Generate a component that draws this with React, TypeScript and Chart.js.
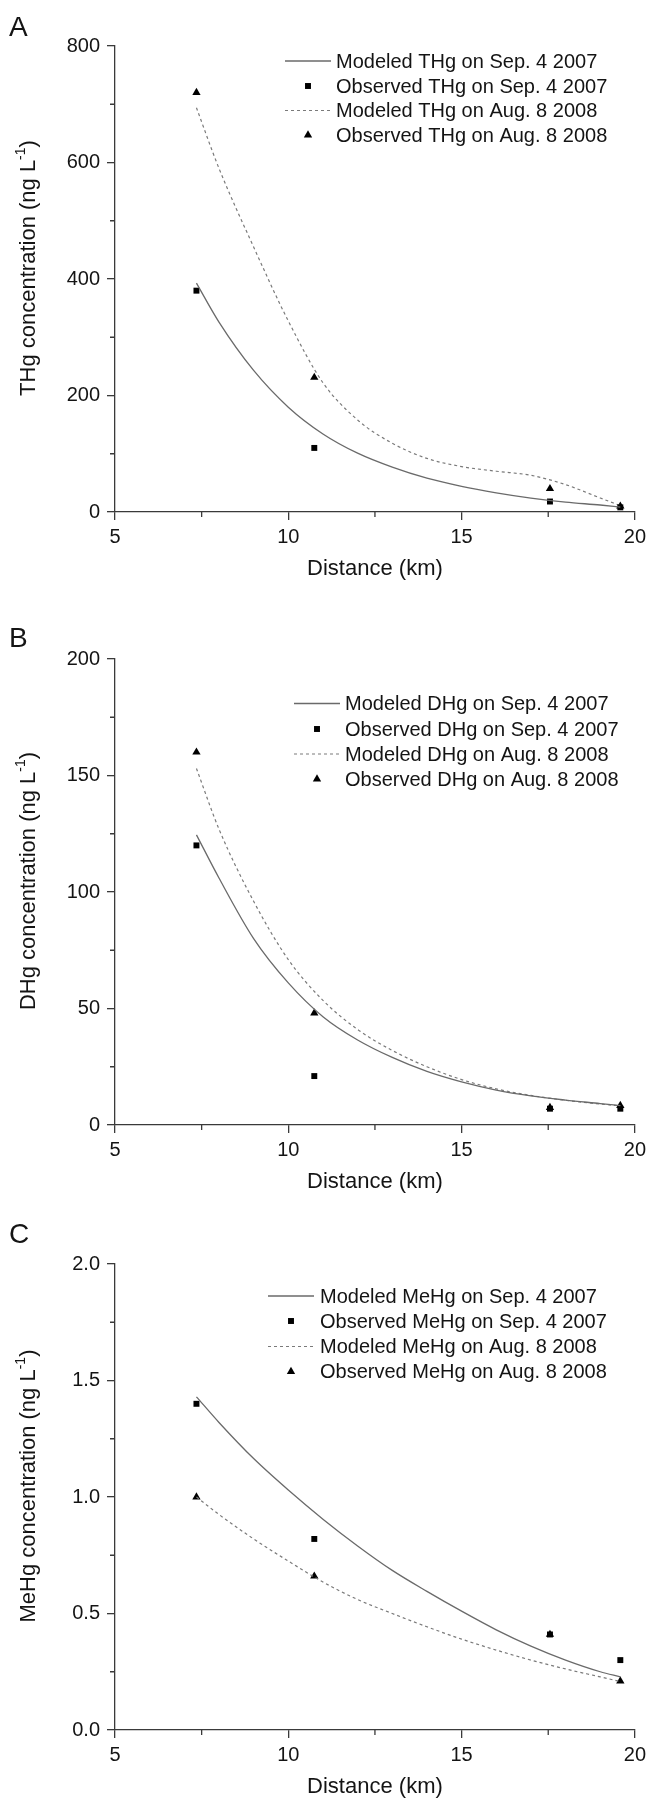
import React, { useEffect, useRef } from "react";
import { Chart, registerables } from "chart.js";

Chart.register(...registerables);

const FONT = "'Liberation Sans', Arial, Helvetica, sans-serif";
const AXIS_COLOR = "#3a3a3a";
const TEXT_COLOR = "#141414";
const SOLID_COLOR = "#6a6a6a";
const DASH_COLOR = "#7a7a7a";

// ---- shared distance values (km) ----
const obsDistance = [7.35, 10.75, 17.55, 19.58];
const modelDistance = [7.35, 8, 9, 10, 11, 12, 13, 14, 15, 16, 17, 18, 19, 19.58];
const xMinorTicks = [7.5, 12.5, 17.5];

// ---- Panel A: THg ----
const thgModelSep = [393, 326, 243, 180, 134, 101, 77, 58, 44, 33, 24, 17, 12, 8.5];
const thgObsSep = [380, 110, 18, 8];
const thgModelAug = [694, 590, 455, 328, 222, 158, 118, 92, 78, 70, 63, 47, 24, 11];
const thgObsAug = [720, 231, 40, 10];
const thgYMinor = [100, 300, 500, 700];

// ---- Panel B: DHg ----
const dhgModelSep = [124.5, 106, 80, 61, 46.5, 36.5, 29, 23, 18.5, 15, 12.5, 10.7, 9.2, 8.3];
const dhgObsSep = [120, 21, 7, 7];
const dhgModelAug = [153, 127, 96, 71, 53.5, 41, 32, 25, 19.5, 15.5, 12.7, 10.6, 9, 8.2];
const dhgObsAug = [160, 48, 7.5, 8.3];
const dhgYMinor = [25, 75, 125, 175];

// ---- Panel C: MeHg ----
const mehgModelSep = [1.43, 1.32, 1.165, 1.03, 0.905, 0.79, 0.685, 0.595, 0.51, 0.43, 0.36, 0.3, 0.25, 0.228];
const mehgObsSep = [1.4, 0.82, 0.41, 0.3];
const mehgModelAug = [1.0, 0.925, 0.82, 0.725, 0.635, 0.56, 0.5, 0.443, 0.39, 0.343, 0.3, 0.262, 0.228, 0.208];
const mehgObsAug = [1.0, 0.66, 0.41, 0.21];
const mehgYMinor = [0.25, 0.75, 1.25, 1.75];

const labelsA = [
  "Modeled THg on Sep. 4 2007",
  "Observed THg on Sep. 4 2007",
  "Modeled THg on Aug. 8 2008",
  "Observed THg on Aug. 8 2008",
];
const labelsB = [
  "Modeled DHg on Sep. 4 2007",
  "Observed DHg on Sep. 4 2007",
  "Modeled DHg on Aug. 8 2008",
  "Observed DHg on Aug. 8 2008",
];
const labelsC = [
  "Modeled MeHg on Sep. 4 2007",
  "Observed MeHg on Sep. 4 2007",
  "Modeled MeHg on Aug. 8 2008",
  "Observed MeHg on Aug. 8 2008",
];

const PLOT_TOP = 46;
const PLOT_H = 466;

type PanelCfg = {
  letter: string;
  top: number;
  height: number;
  letterY: number;
  yMax: number;
  yStep: number;
  yDecimals: number;
  yMinor: number[];
  yTitle: string;
  labels: string[];
  modelSep: number[];
  obsSep: number[];
  modelAug: number[];
  obsAug: number[];
  legend: { lx0: number; lx1: number; mx: number; tx: number; rows: number[] };
};

const panels: PanelCfg[] = [
  {
    letter: "A", top: 0, height: 613, letterY: 27,
    yMax: 800, yStep: 200, yDecimals: 0, yMinor: thgYMinor, yTitle: "THg",
    labels: labelsA, modelSep: thgModelSep, obsSep: thgObsSep, modelAug: thgModelAug, obsAug: thgObsAug,
    legend: { lx0: 285, lx1: 331, mx: 308, tx: 336, rows: [61, 86, 110.5, 135] },
  },
  {
    letter: "B", top: 613, height: 605, letterY: 25,
    yMax: 200, yStep: 50, yDecimals: 0, yMinor: dhgYMinor, yTitle: "DHg",
    labels: labelsB, modelSep: dhgModelSep, obsSep: dhgObsSep, modelAug: dhgModelAug, obsAug: dhgObsAug,
    legend: { lx0: 294, lx1: 340, mx: 317, tx: 345, rows: [90.5, 116, 141, 166] },
  },
  {
    letter: "C", top: 1218, height: 580, letterY: 16,
    yMax: 2, yStep: 0.5, yDecimals: 1, yMinor: mehgYMinor, yTitle: "MeHg",
    labels: labelsC, modelSep: mehgModelSep, obsSep: mehgObsSep, modelAug: mehgModelAug, obsAug: mehgObsAug,
    legend: { lx0: 268, lx1: 314, mx: 291, tx: 320, rows: [78, 103, 128.5, 153.5] },
  },
];

const decorPlugin = {
  id: "panelDecor",
  afterDraw(chart: any, _args: any, opts: any) {
    const ctx: CanvasRenderingContext2D = chart.ctx;
    const xs = chart.scales.x;
    const ys = chart.scales.y;
    const area = chart.chartArea;
    ctx.save();
    // minor ticks
    ctx.strokeStyle = AXIS_COLOR;
    ctx.lineWidth = 1.3;
    ctx.setLineDash([]);
    ctx.beginPath();
    for (const v of opts.xMinor) {
      const px = xs.getPixelForValue(v);
      ctx.moveTo(px, area.bottom);
      ctx.lineTo(px, area.bottom + 5);
    }
    for (const v of opts.yMinor) {
      const py = ys.getPixelForValue(v);
      ctx.moveTo(area.left - 5, py);
      ctx.lineTo(area.left, py);
    }
    ctx.stroke();

    // x title
    ctx.fillStyle = TEXT_COLOR;
    ctx.font = `22px ${FONT}`;
    ctx.textAlign = "center";
    ctx.textBaseline = "middle";
    ctx.fillText("Distance (km)", (area.left + area.right) / 2, area.bottom + 57);

    // y title with superscript
    const main = `${opts.yTitle} concentration (ng L`;
    const sup = "-1";
    const tail = ")";
    ctx.font = `22px ${FONT}`;
    const w1 = ctx.measureText(main).width;
    const w3 = ctx.measureText(tail).width;
    ctx.font = `14px ${FONT}`;
    const w2 = ctx.measureText(sup).width;
    const total = w1 + w2 + w3;
    const cy = (area.top + area.bottom) / 2 - 11;
    ctx.translate(29, cy);
    ctx.rotate(-Math.PI / 2);
    ctx.textAlign = "left";
    ctx.textBaseline = "middle";
    let sx = -total / 2;
    ctx.font = `22px ${FONT}`;
    ctx.fillText(main, sx, 0);
    sx += w1;
    ctx.font = `14px ${FONT}`;
    ctx.fillText(sup, sx, -8);
    sx += w2;
    ctx.font = `22px ${FONT}`;
    ctx.fillText(tail, sx, 0);
    ctx.setTransform(1, 0, 0, 1, 0, 0);

    // legend
    const lg = opts.legend;
    ctx.font = `20px ${FONT}`;
    ctx.textAlign = "left";
    ctx.textBaseline = "middle";
    chart.data.datasets.forEach((ds: any, i: number) => {
      const y = lg.rows[i];
      if (ds.showLine) {
        ctx.strokeStyle = ds.borderColor;
        ctx.lineWidth = ds.borderWidth;
        ctx.setLineDash(ds.borderDash || []);
        ctx.beginPath();
        ctx.moveTo(lg.lx0, y);
        ctx.lineTo(lg.lx1, y);
        ctx.stroke();
        ctx.setLineDash([]);
      } else {
        ctx.fillStyle = "#000";
        const r = ds.pointRadius;
        ctx.beginPath();
        if (ds.pointStyle === "rect") {
          const s = r * Math.SQRT1_2;
          ctx.rect(lg.mx - s, y - s, 2 * s, 2 * s);
        } else {
          ctx.moveTo(lg.mx, y - r);
          ctx.lineTo(lg.mx + r * 0.866, y + r * 0.5);
          ctx.lineTo(lg.mx - r * 0.866, y + r * 0.5);
          ctx.closePath();
        }
        ctx.fill();
      }
      ctx.fillStyle = TEXT_COLOR;
      ctx.fillText(ds.label, lg.tx, y + 1);
    });
    ctx.restore();
  },
};

function Panel({ cfg }: { cfg: PanelCfg }) {
  const ref = useRef<HTMLCanvasElement | null>(null);
  useEffect(() => {
    if (!ref.current) return;
    const toPts = (xs: number[], ys: number[]) => xs.map((x, i) => ({ x, y: ys[i] }));
    const H = cfg.height;
    const chart = new Chart(ref.current, {
      type: "scatter",
      data: {
        datasets: [
          {
            label: cfg.labels[0],
            data: toPts(modelDistance, cfg.modelSep),
            showLine: true,
            borderColor: SOLID_COLOR,
            borderWidth: 1.3,
            pointRadius: 0,
            cubicInterpolationMode: "monotone",
          },
          {
            label: cfg.labels[1],
            data: toPts(obsDistance, cfg.obsSep),
            pointStyle: "rect",
            pointRadius: 4.2,
            pointBackgroundColor: "#000",
            pointBorderColor: "#000",
            pointBorderWidth: 0,
          },
          {
            label: cfg.labels[2],
            data: toPts(modelDistance, cfg.modelAug),
            showLine: true,
            borderColor: DASH_COLOR,
            borderWidth: 1.2,
            borderDash: [3, 3],
            pointRadius: 0,
            cubicInterpolationMode: "monotone",
          },
          {
            label: cfg.labels[3],
            data: toPts(obsDistance, cfg.obsAug),
            pointStyle: "triangle",
            pointRadius: 4.8,
            pointBackgroundColor: "#000",
            pointBorderColor: "#000",
            pointBorderWidth: 0,
          },
        ],
      } as any,
      options: {
        responsive: false,
        animation: false,
        devicePixelRatio: 1,
        layout: { padding: { top: PLOT_TOP, right: 11, left: 0, bottom: 0 } },
        plugins: {
          legend: { display: false },
          tooltip: { enabled: false },
          panelDecor: {
            xMinor: xMinorTicks,
            yMinor: cfg.yMinor,
            yTitle: cfg.yTitle,
            legend: cfg.legend,
          },
        } as any,
        scales: {
          x: {
            type: "linear",
            min: 5,
            max: 20,
            ticks: {
              stepSize: 5,
              color: TEXT_COLOR,
              font: { size: 20, family: FONT },
              padding: 5,
              maxRotation: 0,
              autoSkip: false,
            },
            grid: {
              drawOnChartArea: false,
              drawTicks: true,
              tickLength: 8,
              color: AXIS_COLOR,
              lineWidth: 1.3,
            },
            border: { display: true, color: AXIS_COLOR, width: 1.3 },
            afterFit: (s: any) => {
              s.height = H - PLOT_TOP - PLOT_H;
            },
          },
          y: {
            type: "linear",
            min: 0,
            max: cfg.yMax,
            ticks: {
              stepSize: cfg.yStep,
              color: TEXT_COLOR,
              font: { size: 20, family: FONT },
              padding: 7,
              callback: (v: any) => Number(v).toFixed(cfg.yDecimals),
            },
            grid: {
              drawOnChartArea: false,
              drawTicks: true,
              tickLength: 8,
              color: AXIS_COLOR,
              lineWidth: 1.3,
            },
            border: { display: true, color: AXIS_COLOR, width: 1.3 },
            afterFit: (s: any) => {
              s.width = 115;
            },
          },
        },
      } as any,
      plugins: [decorPlugin as any],
    });
    return () => chart.destroy();
  }, [cfg]);

  return (
    <div style={{ position: "absolute", left: 0, top: cfg.top, width: 651, height: cfg.height }}>
      <canvas ref={ref} width={651} height={cfg.height} style={{ display: "block", width: 651, height: cfg.height }} />
      <div
        style={{
          position: "absolute",
          left: 9,
          top: cfg.letterY - 14,
          fontFamily: FONT,
          fontSize: 28,
          lineHeight: "28px",
          color: TEXT_COLOR,
        }}
      >
        {cfg.letter}
      </div>
    </div>
  );
}

export default function App() {
  return (
    <div style={{ position: "absolute", left: 0, top: 0, width: 651, height: 1798, background: "#fff", overflow: "hidden" }}>
      {panels.map((p) => (
        <Panel key={p.letter} cfg={p} />
      ))}
    </div>
  );
}
